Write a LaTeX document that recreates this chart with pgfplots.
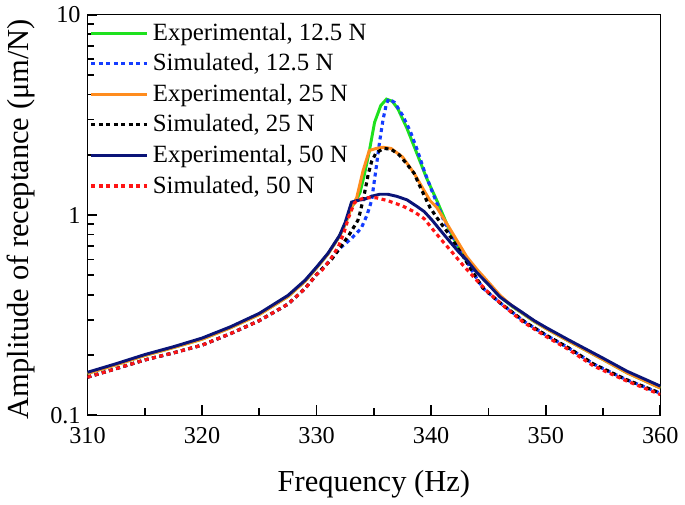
\documentclass[border=0pt]{standalone}
\usepackage{fontspec}
\setmainfont{Liberation Serif}
\usepackage{pgfplots}
\pgfplotsset{compat=1.18}

\definecolor{cgreen}{RGB}{30,225,30}
\definecolor{cblue}{RGB}{20,60,255}
\definecolor{corange}{RGB}{255,140,30}
\definecolor{cnavy}{RGB}{10,20,120}
\definecolor{cred}{RGB}{255,20,20}

\pgfplotsset{
  expline/.style={line width=1.5pt},
  simline/.style={line width=1.6pt, dash pattern=on 2pt off 1.8pt},
}

\begin{document}
\begin{tikzpicture}[line width=1pt]
\begin{axis}[
  scale only axis,
  width=291pt, height=203.5pt,
  xmin=310, xmax=360,
  ymode=log, ymin=0.1, ymax=10,
  xtick={310,320,...,360},
  minor x tick num=1,
  ytick={0.1,1,10},
  yticklabels={0.1,1,10},
  /pgf/number format/assume math mode=true,
  tick label style={font=\fontsize{12.3}{14}\selectfont},
  xticklabel style={yshift=-2.5pt},
  xlabel={Frequency (Hz)},
  ylabel={Amplitude of receptance (μm/N)},
  label style={font=\fontsize{15.5}{18}\selectfont},
  xlabel style={at={(axis description cs:0.5,0)}, anchor=base, yshift=-38.5pt},
  ylabel style={at={(axis description cs:-0.1168,0.49)}, anchor=center},
  legend cell align=left,
  legend image code/.code={\draw[#1] (0pt,0pt) -- (28.5pt,0pt);},
  legend style={draw=none, fill=none, at={(axis description cs:-0.007,1)},
    anchor=north west, font=\fontsize{12.6}{14}\selectfont,
    row sep=1.3pt},
  tick pos=left,
  tick align=inside,
  major tick length=5pt,
  minor tick length=3.5pt,
  major tick style={line width=0.9pt, black},
  minor tick style={line width=0.9pt, black},
]
% Experimental, 12.5 N
\addplot[expline, cgreen] coordinates {
(310,0.162) (312.5,0.179) (315,0.199) (317.5,0.218) (320,0.240) (322.5,0.274)
(325,0.319) (327.5,0.392) (329,0.468) (330,0.545) (331,0.640) (332,0.785)
(332.5,0.90) (333,1.08) (333.5,1.20) (333.8,1.30) (334.2,1.62) (334.6,2.08)
(335.06,2.90) (335.6,3.52) (336.1,3.79) (336.6,3.70) (337.1,3.39) (337.9,2.70)
(338.8,2.00) (339.6,1.53) (340.5,1.18) (341.6,0.84) (342.8,0.62) (344,0.52)
(345,0.452) (346,0.392) (347,0.352) (348,0.322) (349,0.294) (350,0.272)
(352,0.235) (355,0.190) (357.1,0.163) (360,0.137)
};
\addlegendentry{Experimental, 12.5 N}
% Simulated, 12.5 N
\addplot[simline, cblue] coordinates {
(310,0.155) (312.5,0.171) (315,0.189) (317.5,0.205) (320,0.224) (322.5,0.256)
(325,0.297) (327.5,0.359) (329,0.43) (330,0.505) (331,0.58) (332,0.68)
(333,0.76) (333.9,0.86) (334.4,1.0) (334.8,1.18) (335.2,1.72) (335.5,2.32)
(335.8,3.0) (336.1,3.6) (336.3,3.8) (336.8,3.65) (337.5,3.15) (338.2,2.6)
(338.8,2.1) (339.4,1.66) (340,1.35) (341.1,0.94) (342,0.76) (343,0.60)
(344,0.48) (344.5,0.433) (346,0.365) (348.2,0.292) (350,0.252) (352,0.217)
(354.2,0.180) (357,0.151) (360,0.129)
};
\addlegendentry{Simulated, 12.5 N}
% Experimental, 25 N
\addplot[expline, corange] coordinates {
(310,0.162) (312.5,0.179) (315,0.199) (317.5,0.218) (320,0.240) (322.5,0.274)
(325,0.319) (327.5,0.392) (329,0.468) (330,0.545) (331,0.640) (332,0.785)
(332.5,0.90) (333,1.08) (333.5,1.22) (334.05,1.66) (334.6,2.10) (335.2,2.15)
(335.8,2.18) (336.5,2.15) (337.5,1.95) (338.5,1.62) (339.2,1.38) (339.9,1.18)
(340.5,1.09) (341.5,0.88) (343.1,0.62) (344,0.535) (345,0.462) (346,0.398)
(347,0.354) (348,0.323) (349,0.295) (350,0.272) (352,0.235) (355,0.190)
(357.1,0.163) (360,0.137)
};
\addlegendentry{Experimental, 25 N}
% Simulated, 25 N
\addplot[simline, black] coordinates {
(310,0.155) (312.5,0.171) (315,0.189) (317.5,0.205) (320,0.224) (322.5,0.256)
(325,0.297) (327.5,0.359) (329,0.43) (330,0.505) (331.3,0.60) (332,0.68)
(332.8,0.79) (333.3,0.88) (333.6,0.94) (333.8,1.03) (334.2,1.30) (334.5,1.59)
(334.8,1.85) (335.2,2.05) (335.9,2.15) (336.5,2.13) (337.2,2.00) (337.8,1.82)
(338.5,1.62) (339.2,1.32) (339.9,1.09) (340.5,0.97) (341.5,0.81) (342.8,0.62)
(344,0.48) (344.5,0.433) (346,0.365) (348.2,0.292) (350,0.252) (352,0.217)
(354.2,0.180) (357,0.151) (360,0.129)
};
\addlegendentry{Simulated, 25 N}
% Experimental, 50 N
\addplot[expline, cnavy] coordinates {
(310,0.164) (312.5,0.181) (315,0.201) (317.5,0.220) (320,0.243) (322.5,0.277)
(325,0.323) (327.5,0.397) (329,0.473) (330,0.55) (331,0.645) (332,0.79)
(332.5,0.92) (333.05,1.16) (333.5,1.18) (334.2,1.20) (334.8,1.24) (335.5,1.27)
(336.2,1.27) (337,1.24) (337.9,1.19) (338.8,1.10) (339.4,1.04) (340.1,0.94)
(340.8,0.84) (341.6,0.74) (342.5,0.645) (343.1,0.597) (344,0.515) (345,0.45)
(346,0.39) (347,0.355) (348,0.325) (349,0.297) (350,0.275) (352,0.238)
(355,0.193) (357.1,0.166) (360,0.140)
};
\addlegendentry{Experimental, 50 N}
% Simulated, 50 N
\addplot[simline, cred] coordinates {
(310,0.155) (312.5,0.171) (315,0.189) (317.5,0.205) (320,0.224) (322.5,0.256)
(325,0.297) (327.5,0.359) (329,0.43) (330,0.505) (330.5,0.533) (331.2,0.60)
(331.9,0.695) (332.4,0.82) (332.8,0.975) (333.3,1.15) (333.8,1.20) (334.5,1.22)
(335.2,1.22) (336.2,1.18) (337.5,1.11) (338.5,1.04) (339.4,0.958) (340.2,0.84)
(341,0.74) (341.9,0.645) (342.8,0.56) (344,0.47) (345,0.41) (346.5,0.345)
(348,0.293) (350,0.248) (352,0.213) (354.2,0.176) (357,0.149) (360,0.127)
};
\addlegendentry{Simulated, 50 N}
\end{axis}
\end{tikzpicture}
\end{document}
